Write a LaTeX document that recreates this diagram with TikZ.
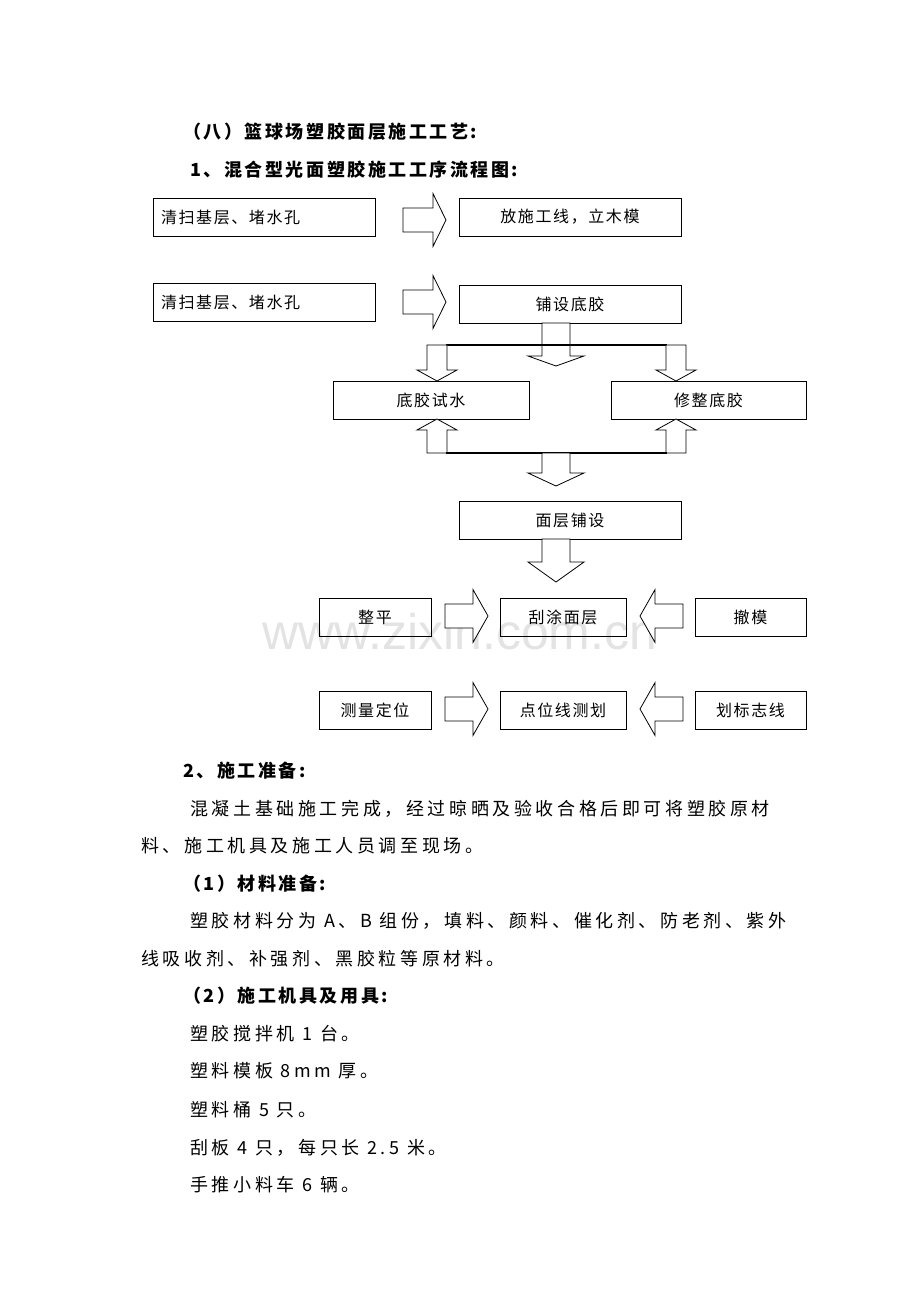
\documentclass[tikz,border=0pt]{standalone}
\usepackage{fontspec}
\setmainfont{Noto Sans CJK SC}
\newfontfamily\wm{Liberation Sans}
\newcommand\HArrow[5]{% x1, x2(tip), yc, shaft half, head len
  \draw[fill=white] (#1,#3-#4) -- (#2-#5,#3-#4) -- (#2-#5,#3-2.2*#4) -- (#2,#3) -- (#2-#5,#3+2.2*#4) -- (#2-#5,#3+#4) -- (#1,#3+#4) -- cycle;}
\newcommand\VArrow[5]{% xc, y1, y2(tip), shaft half, head len (sign)
  \draw[fill=white] (#1-#4,#2) -- (#1-#4,#3-#5) -- (#1-2*#4,#3-#5) -- (#1,#3) -- (#1+2*#4,#3-#5) -- (#1+#4,#3-#5) -- (#1+#4,#2) -- cycle;}
\begin{document}
\begin{tikzpicture}[x=1pt,y=-1pt,
  box/.style={draw,line width=0.8pt,minimum height=38pt,inner sep=0pt,font=\fontsize{16}{16}\selectfont\addfontfeature{LetterSpace=10}},
  body/.style={anchor=west,font=\fontsize{18}{18}\selectfont\addfontfeature{LetterSpace=20},inner sep=0pt},
  head/.style={anchor=west,font=\bfseries\fontsize{18}{18}\selectfont\addfontfeature{LetterSpace=14},inner sep=0pt},
  line width=0.8pt]
\useasboundingbox (0,0) rectangle (920,1302);
\node[anchor=center,text=gray!22,font=\wm\fontsize{50}{50}\selectfont] (wm) at (460,632) {www.zixin.com.cn};
\node[head] (t1) at (183,132) {（八）篮球场塑胶面层施工工艺:};
\node[head] (t2) at (190,170) {1、混合型光面塑胶施工工序流程图:};
\node[box,minimum width=222pt,text width=206pt,align=left] (a1) at (264,217) {清扫基层、堵水孔};
\node[box,minimum width=222pt] (b1) at (570,217) {放施工线，立木模};
\node[box,minimum width=222pt,text width=206pt,align=left] (a2) at (264,302) {清扫基层、堵水孔};
\node[box,minimum width=222pt] (b2) at (570,304) {铺设底胶};
\HArrow{403}{446}{220}{12}{13}
\HArrow{403}{446}{302}{12}{13}
\draw[line width=2pt] (446,345) -- (667,345);
\VArrow{556}{323}{366}{14}{10}
\draw[line width=2pt] (542,345) -- (570,345);
\VArrow{437}{345}{381}{10}{11}
\VArrow{676}{345}{381}{10}{11}
\node[box,minimum width=196pt] (c1) at (431,400) {底胶试水};
\node[box,minimum width=195pt] (c2) at (708.5,400) {修整底胶};
\VArrow{437}{453}{419}{10}{-11}
\VArrow{676}{453}{419}{10}{-11}
\draw[line width=2pt] (446,453) -- (667,453);
\VArrow{556}{453}{486}{14}{13}
\node[box,minimum width=222pt] (d) at (570,520) {面层铺设};
\VArrow{556}{539}{582}{14}{20}
\node[box,minimum width=112pt] (e1) at (375,617) {整平};
\node[box,minimum width=126pt] (e2) at (563,617) {刮涂面层};
\node[box,minimum width=111pt] (e3) at (750.5,617) {撤模};
\HArrow{445}{488}{616}{12}{15}
\HArrow{683}{640}{616}{12}{-15}
\node[box,minimum width=112pt] (f1) at (375,710) {测量定位};
\node[box,minimum width=126pt] (f2) at (563,710) {点位线测划};
\node[box,minimum width=111pt] (f3) at (750.5,710) {划标志线};
\HArrow{445}{488}{709}{12}{15}
\HArrow{683}{640}{709}{12}{-15}
\node[head] (s2) at (183,771) {2、施工准备:};
\node[body] (p1) at (190,809) {混凝土基础施工完成，经过晾晒及验收合格后即可将塑胶原材};
\node[body] (p2) at (141,846) {料、施工机具及施工人员调至现场。};
\node[head] (s3) at (183,884) {（1）材料准备:};
\node[body] (p3) at (190,921) {塑胶材料分为 A、B 组份，填料、颜料、催化剂、防老剂、紫外};
\node[body] (p4) at (141,959) {线吸收剂、补强剂、黑胶粒等原材料。};
\node[head] (s4) at (183,996) {（2）施工机具及用具:};
\node[body] (p5) at (190,1034) {塑胶搅拌机 1 台。};
\node[body] (p6) at (190,1071) {塑料模板 8mm 厚。};
\node[body] (p7) at (190,1110) {塑料桶 5 只。};
\node[body] (p8) at (190,1148) {刮板 4 只，每只长 2.5 米。};
\node[body] (p9) at (190,1185) {手推小料车 6 辆。};
\end{tikzpicture}
\end{document}
